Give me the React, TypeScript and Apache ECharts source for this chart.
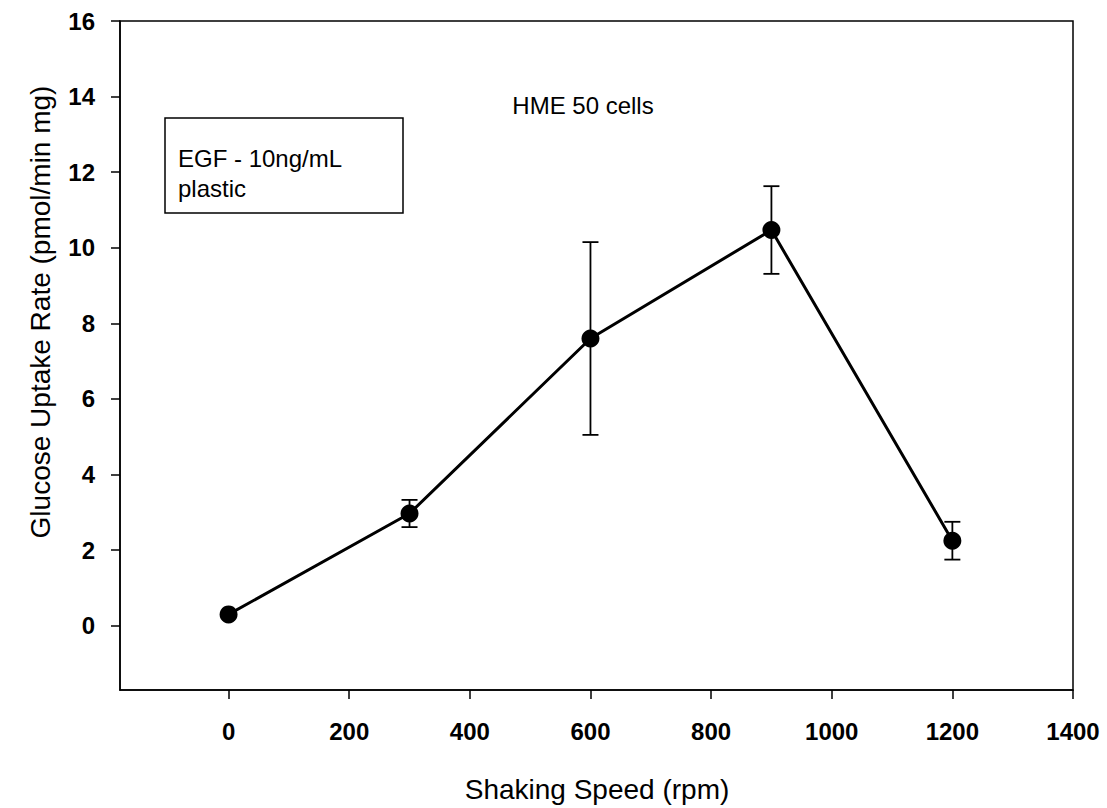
import React, { useEffect, useRef } from "react";
import * as echarts from "echarts";

const speeds = [0, 300, 600, 900, 1200];
const uptake = [0.3, 2.97, 7.6, 10.47, 2.25];
const errors = [0, 0.36, 2.55, 1.16, 0.5];
const xTicks = [0, 200, 400, 600, 800, 1000, 1200, 1400];
const yTicks = [0, 2, 4, 6, 8, 10, 12, 14, 16];
const xTitle = "Shaking Speed (rpm)";
const yTitle = "Glucose Uptake Rate (pmol/min mg)";
const boxLines = ["EGF - 10ng/mL", "plastic"];
const cellLabel = "HME 50 cells";

const FONT = "'Liberation Sans', Arial, sans-serif";

export default function App() {
  const ref = useRef<HTMLDivElement>(null);
  useEffect(() => {
    if (!ref.current) return;
    const chart = echarts.init(ref.current, null, { renderer: "svg" });
    const errData = speeds
      .map((x, i) => [x, uptake[i] - errors[i], uptake[i] + errors[i], errors[i]])
      .filter((d) => d[3] > 0);
    chart.setOption({
      animation: false,
      backgroundColor: "#ffffff",
      grid: {
        left: 120,
        right: 34,
        top: 21,
        bottom: 118,
        show: true,
        borderColor: "#000",
        borderWidth: 1.5,
        backgroundColor: "transparent",
      },
      xAxis: {
        type: "value",
        min: -180,
        max: 1400,
        axisLine: { show: true, onZero: false, lineStyle: { color: "#000", width: 1.5 } },
        axisTick: { show: true, inside: false, length: 9, customValues: xTicks, lineStyle: { color: "#000", width: 1.5 } },
        axisLabel: {
          customValues: xTicks,
          formatter: (v: number) => String(v),
          margin: 29,
          color: "#000",
          fontFamily: FONT,
          fontWeight: "bold",
          fontSize: 24,
          showMaxLabel: true,
          showMinLabel: true,
        },
        splitLine: { show: false },
      },
      yAxis: {
        type: "value",
        min: -1.7,
        max: 16,
        axisLine: { show: true, onZero: false, lineStyle: { color: "#000", width: 1.5 } },
        axisTick: { show: true, inside: false, length: 9, customValues: yTicks, lineStyle: { color: "#000", width: 1.5 } },
        axisLabel: {
          customValues: yTicks,
          formatter: (v: number) => String(v),
          margin: 25,
          color: "#000",
          fontFamily: FONT,
          fontWeight: "bold",
          fontSize: 24,
          showMaxLabel: true,
        },
        splitLine: { show: false },
      },
      graphic: [
        {
          type: "text",
          x: 40,
          y: 312,
          rotation: Math.PI / 2,
          style: {
            text: yTitle,
            fill: "#000",
            font: `28px ${FONT}`,
            textAlign: "center",
            textVerticalAlign: "middle",
          },
        },
        {
          type: "text",
          x: 597,
          y: 789,
          style: {
            text: xTitle,
            fill: "#000",
            font: `28px ${FONT}`,
            textAlign: "center",
            textVerticalAlign: "middle",
          },
        },
        {
          type: "rect",
          shape: { x: 165, y: 118, width: 238, height: 95 },
          style: { fill: "#fff", stroke: "#000", lineWidth: 1.5 },
          z: 10,
        },
        {
          type: "text",
          x: 178,
          y: 158,
          z: 11,
          style: { text: boxLines[0], fill: "#000", font: `24px ${FONT}`, textVerticalAlign: "middle" },
        },
        {
          type: "text",
          x: 178,
          y: 188,
          z: 11,
          style: { text: boxLines[1], fill: "#000", font: `24px ${FONT}`, textVerticalAlign: "middle" },
        },
        {
          type: "text",
          x: 583,
          y: 105,
          z: 11,
          style: { text: cellLabel, fill: "#000", font: `24px ${FONT}`, textAlign: "center", textVerticalAlign: "middle" },
        },
      ],
      series: [
        {
          type: "custom",
          data: errData,
          z: 2,
          renderItem: (params: any, api: any) => {
            const x = api.value(0);
            const lo = api.coord([x, api.value(1)]);
            const hi = api.coord([x, api.value(2)]);
            const hw = 8;
            const st = { stroke: "#000", lineWidth: 1.8 };
            return {
              type: "group",
              children: [
                { type: "line", shape: { x1: lo[0], y1: lo[1], x2: hi[0], y2: hi[1] }, style: st },
                { type: "line", shape: { x1: hi[0] - hw, y1: hi[1], x2: hi[0] + hw, y2: hi[1] }, style: st },
                { type: "line", shape: { x1: lo[0] - hw, y1: lo[1], x2: lo[0] + hw, y2: lo[1] }, style: st },
              ],
            };
          },
        },
        {
          type: "line",
          data: speeds.map((x, i) => [x, uptake[i]]),
          symbol: "circle",
          symbolSize: 18,
          z: 3,
          lineStyle: { color: "#000", width: 3 },
          itemStyle: { color: "#000", borderWidth: 0 },
        },
      ],
    });
    return () => chart.dispose();
  }, []);
  return (
    <div
      ref={ref}
      style={{ position: "absolute", left: 0, top: 0, width: 1107, height: 808, background: "#fff" }}
    />
  );
}
